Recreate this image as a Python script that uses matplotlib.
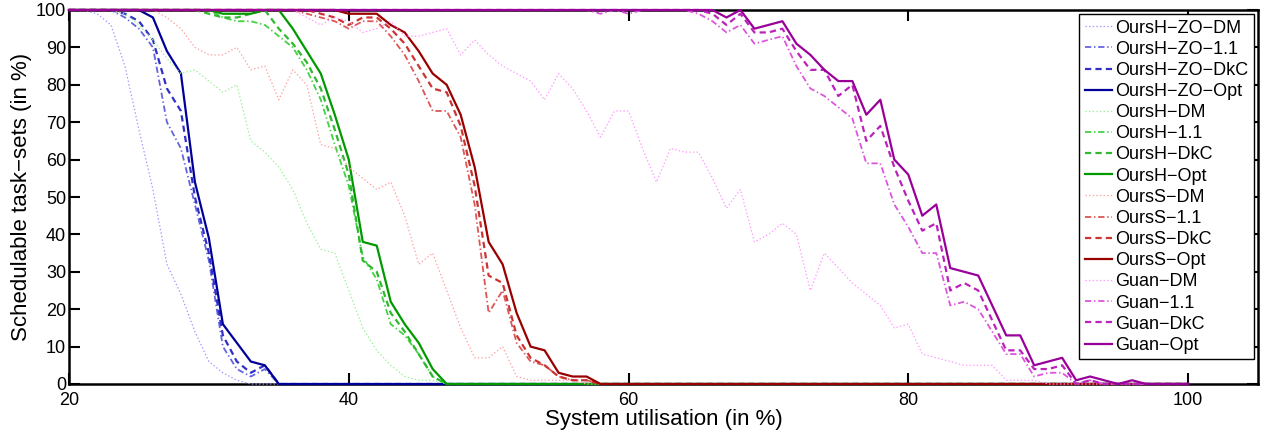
import numpy as np
import matplotlib
matplotlib.use("Agg")
import matplotlib.pyplot as plt

plt.rcParams['font.family'] = ['Liberation Sans', 'DejaVu Sans']
plt.rcParams['lines.scale_dashes'] = False

utilisation = list(range(20, 101))

zo_dm = [100, 100, 99, 96, 85, 68, 52, 32, 24, 14,
         6, 3, 1, 0, 0, 0, 0, 0, 0, 0,
         0, 0, 0, 0, 0, 0, 0, 0, 0, 0,
         0, 0, 0, 0, 0, 0, 0, 0, 0, 0,
         0, 0, 0, 0, 0, 0, 0, 0, 0, 0,
         0, 0, 0, 0, 0, 0, 0, 0, 0, 0,
         0, 0, 0, 0, 0, 0, 0, 0, 0, 0,
         0, 0, 0, 0, 0, 0, 0, 0, 0, 0,
         0]
zo_11 = [100, 100, 100, 100, 98, 95, 90, 70, 63, 48,
         33, 10, 4, 2, 4, 0, 0, 0, 0, 0,
         0, 0, 0, 0, 0, 0, 0, 0, 0, 0,
         0, 0, 0, 0, 0, 0, 0, 0, 0, 0,
         0, 0, 0, 0, 0, 0, 0, 0, 0, 0,
         0, 0, 0, 0, 0, 0, 0, 0, 0, 0,
         0, 0, 0, 0, 0, 0, 0, 0, 0, 0,
         0, 0, 0, 0, 0, 0, 0, 0, 0, 0,
         0]
zo_dkc = [100, 100, 100, 100, 99, 97, 92, 79, 73, 50,
          35, 13, 6, 3, 5, 0, 0, 0, 0, 0,
          0, 0, 0, 0, 0, 0, 0, 0, 0, 0,
          0, 0, 0, 0, 0, 0, 0, 0, 0, 0,
          0, 0, 0, 0, 0, 0, 0, 0, 0, 0,
          0, 0, 0, 0, 0, 0, 0, 0, 0, 0,
          0, 0, 0, 0, 0, 0, 0, 0, 0, 0,
          0, 0, 0, 0, 0, 0, 0, 0, 0, 0,
          0]
zo_opt = [100, 100, 100, 100, 100, 100, 98, 89, 83, 54,
          39, 16, 11, 6, 5, 0, 0, 0, 0, 0,
          0, 0, 0, 0, 0, 0, 0, 0, 0, 0,
          0, 0, 0, 0, 0, 0, 0, 0, 0, 0,
          0, 0, 0, 0, 0, 0, 0, 0, 0, 0,
          0, 0, 0, 0, 0, 0, 0, 0, 0, 0,
          0, 0, 0, 0, 0, 0, 0, 0, 0, 0,
          0, 0, 0, 0, 0, 0, 0, 0, 0, 0,
          0]

h_dm = [100, 100, 100, 100, 99, 96, 92, 87, 83, 84,
        81, 78, 80, 65, 62, 58, 52, 43, 36, 35,
        25, 15, 9, 5, 2, 1, 1, 0, 0, 0,
        0, 0, 0, 0, 0, 0, 0, 0, 0, 0,
        0, 0, 0, 0, 0, 0, 0, 0, 0, 0,
        0, 0, 0, 0, 0, 0, 0, 0, 0, 0,
        0, 0, 0, 0, 0, 0, 0, 0, 0, 0,
        0, 0, 0, 0, 0, 0, 0, 0, 0, 0,
        0]
h_11 = [100, 100, 100, 100, 100, 100, 100, 100, 100, 100,
        100, 98, 97, 97, 96, 93, 90, 84, 76, 64,
        53, 34, 28, 16, 13, 8, 2, 0, 0, 0,
        0, 0, 0, 0, 0, 0, 0, 0, 0, 0,
        0, 0, 0, 0, 0, 0, 0, 0, 0, 0,
        0, 0, 0, 0, 0, 0, 0, 0, 0, 0,
        0, 0, 0, 0, 0, 0, 0, 0, 0, 0,
        0, 0, 0, 0, 0, 0, 0, 0, 0, 0,
        0]
h_dkc = [100, 100, 100, 100, 100, 100, 100, 100, 100, 100,
         99, 98, 98, 99, 100, 95, 91, 86, 79, 68,
         56, 33, 30, 19, 14, 8, 2, 0, 0, 0,
         0, 0, 0, 0, 0, 0, 0, 0, 0, 0,
         0, 0, 0, 0, 0, 0, 0, 0, 0, 0,
         0, 0, 0, 0, 0, 0, 0, 0, 0, 0,
         0, 0, 0, 0, 0, 0, 0, 0, 0, 0,
         0, 0, 0, 0, 0, 0, 0, 0, 0, 0,
         0]
h_opt = [100, 100, 100, 100, 100, 100, 100, 100, 100, 100,
         100, 99, 99, 99, 100, 100, 95, 89, 83, 72,
         60, 38, 37, 22, 16, 11, 4, 0, 0, 0,
         0, 0, 0, 0, 0, 0, 0, 0, 0, 0,
         0, 0, 0, 0, 0, 0, 0, 0, 0, 0,
         0, 0, 0, 0, 0, 0, 0, 0, 0, 0,
         0, 0, 0, 0, 0, 0, 0, 0, 0, 0,
         0, 0, 0, 0, 0, 0, 0, 0, 0, 0,
         0]

s_dm = [100, 100, 100, 100, 100, 100, 100, 98, 95, 90,
        88, 88, 90, 84, 85, 76, 84, 80, 64, 63,
        58, 55, 52, 54, 45, 32, 35, 25, 15, 7,
        7, 10, 2, 1, 1, 1, 1, 0, 0, 0,
        0, 0, 0, 0, 0, 0, 0, 0, 0, 0,
        0, 0, 0, 0, 0, 0, 0, 0, 0, 0,
        0, 0, 0, 0, 0, 0, 0, 0, 0, 0,
        0, 0, 0, 0, 0, 0, 0, 0, 0, 0,
        0]
s_11 = [100, 100, 100, 100, 100, 100, 100, 100, 100, 100,
        100, 100, 100, 100, 100, 100, 100, 99, 98, 97,
        95, 97, 97, 93, 88, 81, 73, 73, 66, 48,
        19, 25, 11, 6, 5, 2, 1, 1, 0, 0,
        0, 0, 0, 0, 0, 0, 0, 0, 0, 0,
        0, 0, 0, 0, 0, 0, 0, 0, 0, 0,
        0, 0, 0, 0, 0, 0, 0, 0, 0, 0,
        0, 0, 0, 0, 0, 0, 0, 0, 0, 0,
        0]
s_dkc = [100, 100, 100, 100, 100, 100, 100, 100, 100, 100,
         100, 100, 100, 100, 100, 100, 100, 100, 99, 98,
         96, 98, 98, 95, 91, 85, 79, 78, 69, 53,
         29, 27, 13, 7, 5, 2, 1, 1, 0, 0,
         0, 0, 0, 0, 0, 0, 0, 0, 0, 0,
         0, 0, 0, 0, 0, 0, 0, 0, 0, 0,
         0, 0, 0, 0, 0, 0, 0, 0, 0, 0,
         0, 0, 0, 0, 0, 0, 0, 0, 0, 0,
         0]
s_opt = [100, 100, 100, 100, 100, 100, 100, 100, 100, 100,
         100, 100, 100, 100, 100, 100, 100, 100, 100, 100,
         99, 99, 99, 96, 94, 89, 83, 80, 72, 58,
         38, 32, 19, 10, 9, 3, 2, 2, 0, 0,
         0, 0, 0, 0, 0, 0, 0, 0, 0, 0,
         0, 0, 0, 0, 0, 0, 0, 0, 0, 0,
         0, 0, 0, 0, 0, 0, 0, 0, 0, 0,
         0, 0, 0, 0, 0, 0, 0, 0, 0, 0,
         0]

g_dm = [100, 100, 100, 100, 100, 100, 100, 100, 100, 100,
        100, 100, 100, 100, 100, 100, 100, 98, 96, 98,
        97, 94, 95, 97, 93, 93, 94, 95, 88, 92,
        88, 85, 83, 81, 76, 83, 79, 73, 66, 73,
        73, 63, 54, 63, 62, 62, 55, 47, 52, 38,
        40, 43, 40, 25, 35, 31, 27, 24, 21, 15,
        16, 8, 7, 6, 5, 5, 5, 1, 1, 1,
        0, 0, 0, 0, 0, 0, 0, 0, 0, 0,
        0]
g_11 = [100, 100, 100, 100, 100, 100, 100, 100, 100, 100,
        100, 100, 100, 100, 100, 100, 100, 100, 100, 100,
        100, 100, 100, 100, 100, 100, 100, 100, 100, 100,
        100, 100, 100, 100, 100, 100, 100, 100, 99, 100,
        99, 100, 100, 100, 100, 99, 97, 94, 96, 91,
        92, 93, 85, 79, 77, 74, 71, 59, 59, 48,
        42, 35, 35, 21, 22, 20, 14, 8, 8, 2,
        3, 3, 0, 1, 0, 0, 0, 0, 0, 0,
        0]
g_dkc = [100, 100, 100, 100, 100, 100, 100, 100, 100, 100,
         100, 100, 100, 100, 100, 100, 100, 100, 100, 100,
         100, 100, 100, 100, 100, 100, 100, 100, 100, 100,
         100, 100, 100, 100, 100, 100, 100, 100, 100, 100,
         100, 100, 100, 100, 100, 100, 99, 96, 99, 94,
         94, 95, 89, 84, 84, 77, 80, 65, 69, 58,
         49, 41, 43, 25, 27, 25, 17, 9, 9, 4,
         4, 5, 0, 1, 0, 0, 0, 0, 0, 0,
         0]
g_opt = [100, 100, 100, 100, 100, 100, 100, 100, 100, 100,
         100, 100, 100, 100, 100, 100, 100, 100, 100, 100,
         100, 100, 100, 100, 100, 100, 100, 100, 100, 100,
         100, 100, 100, 100, 100, 100, 100, 100, 100, 100,
         100, 100, 100, 100, 100, 100, 100, 98, 100, 95,
         96, 97, 91, 88, 84, 81, 81, 72, 76, 60,
         56, 45, 48, 31, 30, 29, 21, 13, 13, 5,
         6, 7, 1, 2, 1, 0, 1, 0, 0, 0,
         0]

labels = ['OursH−ZO−DM', 'OursH−ZO−1.1', 'OursH−ZO−DkC', 'OursH−ZO−Opt',
          'OursH−DM', 'OursH−1.1', 'OursH−DkC', 'OursH−Opt',
          'OursS−DM', 'OursS−1.1', 'OursS−DkC', 'OursS−Opt',
          'Guan−DM', 'Guan−1.1', 'Guan−DkC', 'Guan−Opt']
series = [zo_dm, zo_11, zo_dkc, zo_opt, h_dm, h_11, h_dkc, h_opt,
          s_dm, s_11, s_dkc, s_opt, g_dm, g_11, g_dkc, g_opt]
colors = ['#9999FF', '#6464E0', '#3030C8', '#000099',
          '#99F099', '#44D044', '#30B830', '#009900',
          '#FFA0A0', '#DD5555', '#CC3333', '#990000',
          '#FF99FF', '#DD55DD', '#BB22BB', '#990099']
styles = [(0, (1, 1.6)), (0, (4.5, 2, 1, 2)), (0, (4.5, 3)), '-']
widths = [0.9, 1.3, 1.6, 1.6]

fig = plt.figure(figsize=(12.65, 4.34), dpi=100)
ax = fig.add_axes([69 / 1265, 1 - 384 / 434, (1258 - 69) / 1265, (384 - 10) / 434])

for i, (y, lab, c) in enumerate(zip(series, labels, colors)):
    ax.plot(utilisation, y, color=c, linestyle=styles[i % 4], linewidth=widths[i % 4],
            label=lab, clip_on=False, zorder=3)

ax.set_xlim(20, 105)
ax.set_ylim(0, 100)
ax.set_xticks([20, 40, 60, 80, 100])
ax.set_yticks(list(range(0, 101, 10)))
ax.tick_params(direction='in', length=8, width=1.5, top=True, right=True,
               labelsize=13)
ax.tick_params(axis='x', pad=6)
ax.tick_params(axis='y', pad=2)
for sp in ax.spines.values():
    sp.set_linewidth(1.8)
    sp.set_zorder(2.5)

ax.set_xlabel('System utilisation (in %)', fontsize=16, labelpad=0)
ax.set_ylabel('Schedulable task−sets (in %)', fontsize=16, labelpad=3)

leg = ax.legend(loc='upper right', bbox_to_anchor=(0.9966, 0.989), fontsize=13,
                frameon=True, fancybox=False, framealpha=1, edgecolor='black',
                handlelength=1.5, handletextpad=0.2, labelspacing=0.23,
                borderpad=0.3, borderaxespad=0)
leg.get_frame().set_linewidth(1.0)
leg.set_zorder(5)

fig.savefig('out.png', dpi=100)
